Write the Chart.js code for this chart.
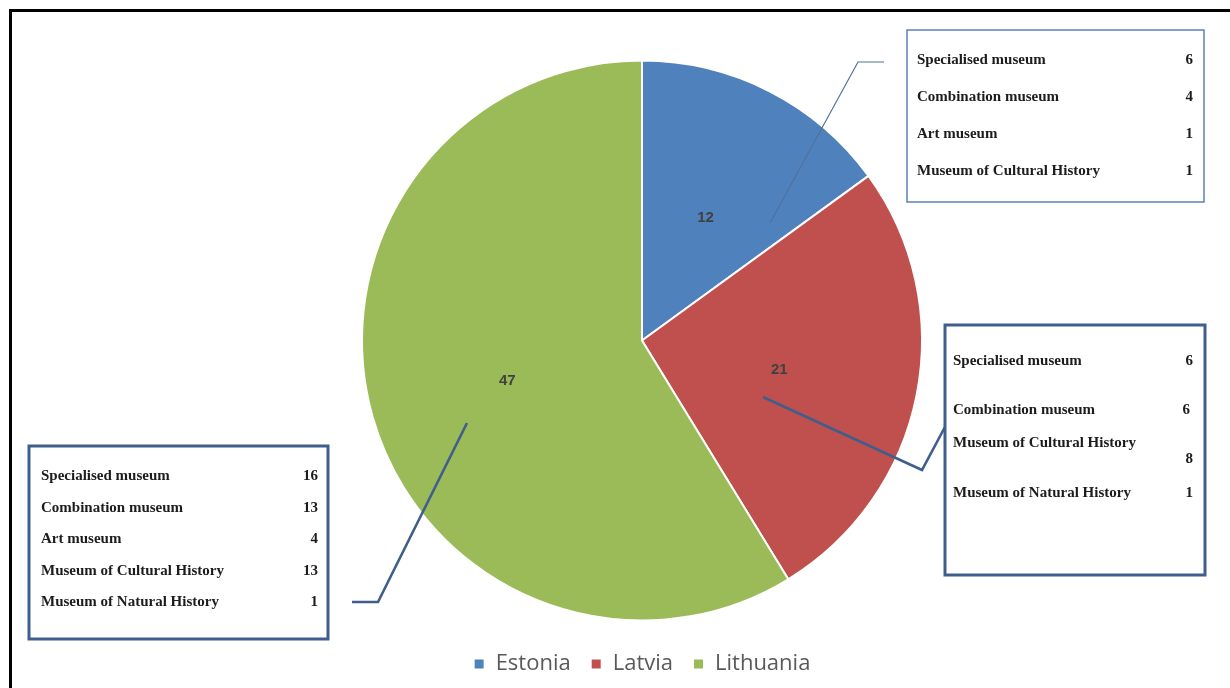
<!DOCTYPE html>
<html>
<head>
<meta charset="utf-8">
<script src="https://cdn.jsdelivr.net/npm/chart.js@4"></script>
<style>
  html, body { margin: 0; padding: 0; background: #fff; }
  #wrap { position: relative; width: 1230px; height: 688px; }
</style>
</head>
<body>
<div id="wrap"><canvas id="pie" width="1230" height="688"></canvas></div>
<script>
// museums per country
const countries = ["Estonia", "Latvia", "Lithuania"];
const museumTotals = [12, 21, 47];
const sliceColors = ["#4F81BD", "#C0504D", "#9BBB59"];

// breakdown by museum type, one list per country
const estoniaTypes = ["Specialised museum", "Combination museum", "Art museum", "Museum of Cultural History"];
const estoniaCounts = [6, 4, 1, 1];
const latviaTypes = ["Specialised museum", "Combination museum", "Museum of Cultural History", "Museum of Natural History"];
const latviaCounts = [6, 6, 8, 1];
const lithuaniaTypes = ["Specialised museum", "Combination museum", "Art museum", "Museum of Cultural History", "Museum of Natural History"];
const lithuaniaCounts = [16, 13, 4, 13, 1];

// callout boxes: frame, leader line and text baselines
const callouts = [
  { types: estoniaTypes, counts: estoniaCounts,
    box: [907, 30, 1204, 202], border: "#5b83b7", bw: 1.5,
    leader: [[770, 223], [858, 62], [884, 62]], lw: 1.2, lc: "#50729c",
    textX: 917, valX: [1193, 1193, 1193, 1193],
    rows: [64, 101, 138, 175], valRows: [64, 101, 138, 175] },
  { types: latviaTypes, counts: latviaCounts,
    box: [945, 325, 1205, 575], border: "#3f5e8c", bw: 3,
    leader: [[763, 397], [922, 470], [946, 425]], lw: 2.6, lc: "#3f5e8c",
    textX: 953, valX: [1193, 1190, 1193, 1193],
    rows: [365, 414, 447, 497], valRows: [365, 414, 463, 497] },
  { types: lithuaniaTypes, counts: lithuaniaCounts,
    box: [29, 446, 328, 639], border: "#3f5e8c", bw: 3,
    leader: [[467, 423], [378, 602], [352, 602]], lw: 2.6, lc: "#3f5e8c",
    textX: 41, valX: [318, 318, 318, 318, 318],
    rows: [480, 512, 543, 575, 606], valRows: [480, 512, 543, 575, 606] }
];

const sliceLabels = {
  id: "sliceLabels",
  afterDatasetsDraw(chart) {
    const ctx = chart.ctx;
    const meta = chart.getDatasetMeta(0);
    ctx.save();
    ctx.font = "bold 15px 'Liberation Sans', Arial, sans-serif";
    ctx.fillStyle = "#404040";
    ctx.textAlign = "center";
    ctx.textBaseline = "middle";
    meta.data.forEach((arc, i) => {
      const p = arc.tooltipPosition();
      ctx.fillText(String(museumTotals[i]), p.x, p.y + 2);
    });
    ctx.restore();
  }
};

const calloutBoxes = {
  id: "calloutBoxes",
  afterDatasetsDraw(chart) {
    const ctx = chart.ctx;
    ctx.save();
    callouts.forEach(c => {
      // leader line
      ctx.beginPath();
      c.leader.forEach(([x, y], k) => k ? ctx.lineTo(x, y) : ctx.moveTo(x, y));
      ctx.strokeStyle = c.lc;
      ctx.lineWidth = c.lw;
      ctx.lineJoin = "miter";
      ctx.stroke();
      // frame
      const [x0, y0, x1, y1] = c.box;
      ctx.fillStyle = "#fff";
      ctx.fillRect(x0, y0, x1 - x0, y1 - y0);
      ctx.strokeStyle = c.border;
      ctx.lineWidth = c.bw;
      ctx.strokeRect(x0, y0, x1 - x0, y1 - y0);
      // rows
      ctx.font = "bold 15px 'Liberation Serif', 'Times New Roman', serif";
      ctx.fillStyle = "#1c1c1c";
      ctx.textBaseline = "alphabetic";
      c.types.forEach((t, i) => {
        ctx.textAlign = "left";
        ctx.fillText(t, c.textX, c.rows[i]);
        ctx.textAlign = "right";
        ctx.fillText(String(c.counts[i]), c.valX[i], c.valRows[i]);
      });
    });
    ctx.restore();
  }
};

const pageFrame = {
  id: "pageFrame",
  afterDraw(chart) {
    const ctx = chart.ctx;
    ctx.save();
    ctx.fillStyle = "#000";
    ctx.fillRect(9, 9, 1221, 3);
    ctx.fillRect(9, 9, 3, 679);
    ctx.restore();
  }
};

new Chart(document.getElementById("pie"), {
  type: "pie",
  data: {
    labels: countries,
    datasets: [{
      data: museumTotals,
      backgroundColor: sliceColors,
      borderColor: "#fff",
      borderWidth: 2
    }]
  },
  options: {
    responsive: false,
    animation: false,
    radius: 280,
    layout: { padding: { left: 54, right: 0, top: 48, bottom: 3 } },
    plugins: {
      tooltip: { enabled: false },
      legend: {
        position: "bottom",
        labels: {
          boxWidth: 11, boxHeight: 11, padding: 20,
          color: "#595959",
          font: { family: "'Open Sans', sans-serif", size: 22 }
        }
      }
    }
  },
  plugins: [sliceLabels, calloutBoxes, pageFrame]
});
</script>
</body>
</html>
